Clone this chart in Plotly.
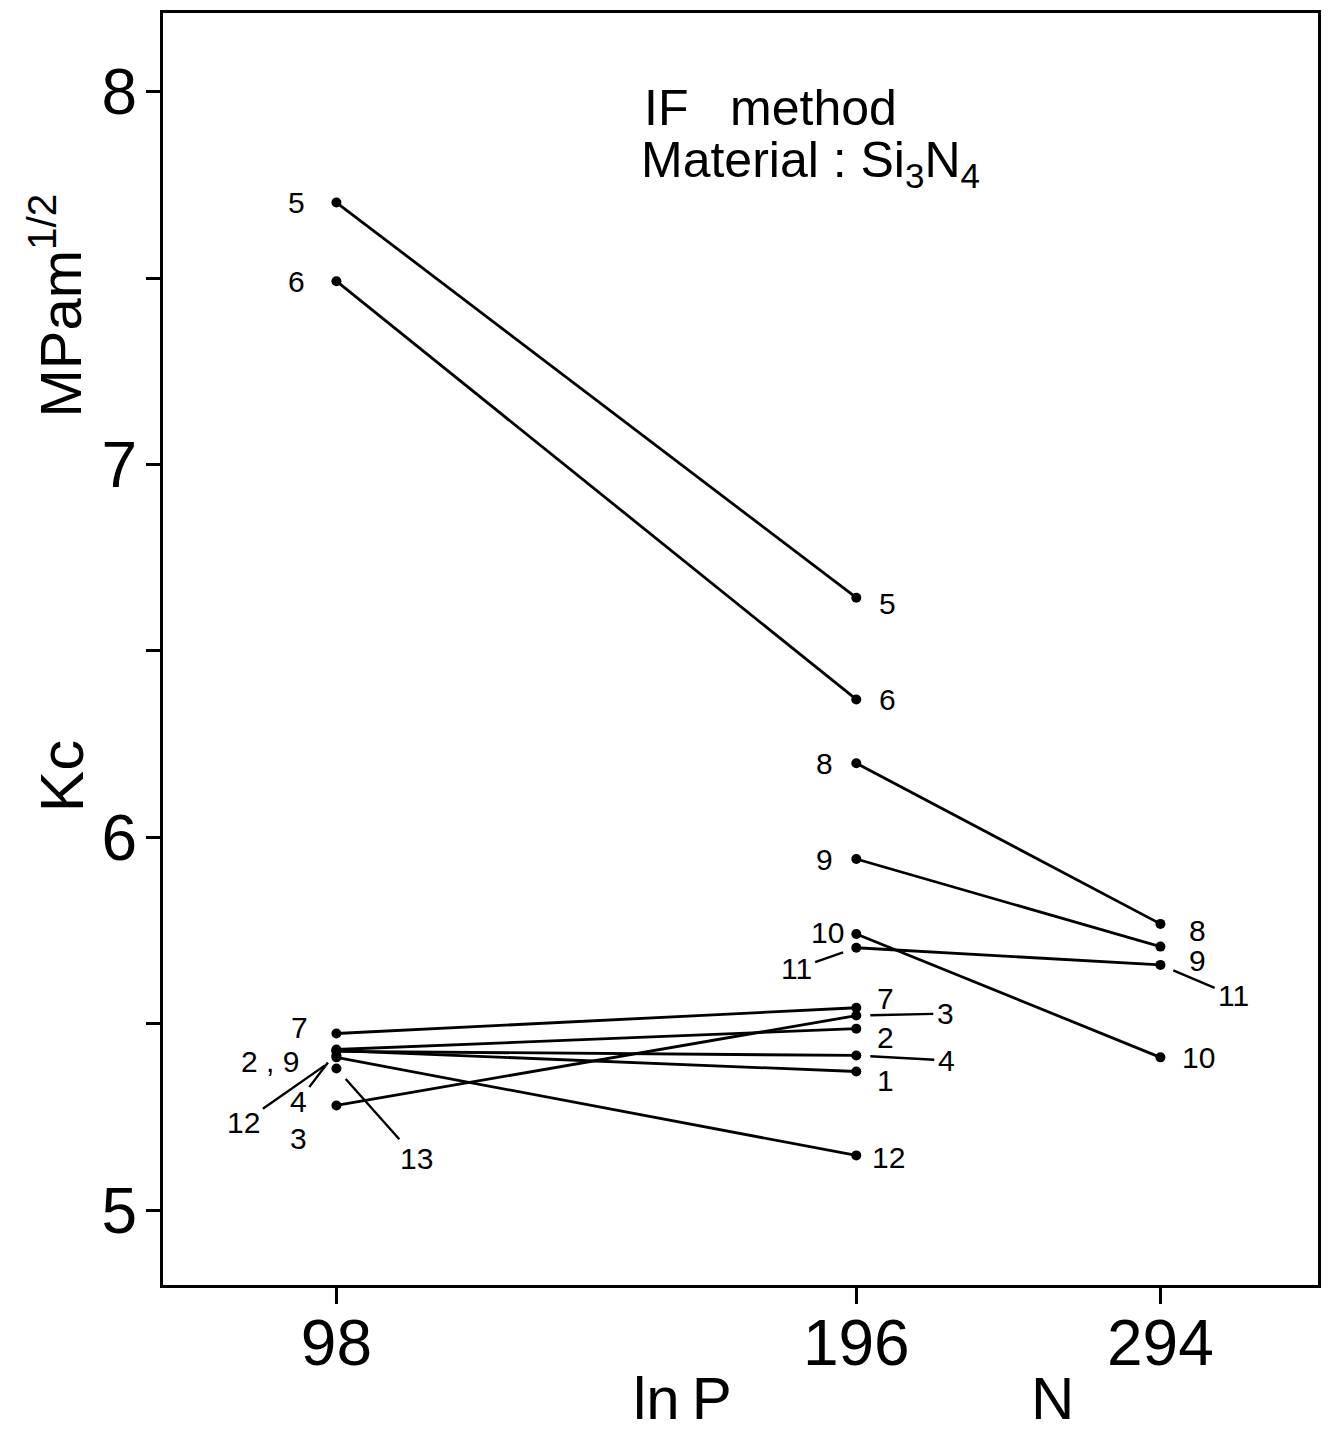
import math
import plotly.graph_objects as go

# Indentation load P (N) and fracture toughness Kc (MPa m^1/2) for each test
loads = [98, 196, 294]
series_ids = ["1", "2", "3", "4", "5", "6", "7", "8", "9", "10", "11", "12", "13"]
kc_98 = [5.428, 5.431, 5.281, 5.426, 7.703, 7.492, 5.474, None, 5.415, None, None, 5.410, 5.380]
kc_196 = [5.372, 5.487, 5.522, 5.415, 6.643, 6.370, 5.543, 6.199, 5.942, 5.741, 5.704, 5.147, None]
kc_294 = [None, None, None, None, None, None, None, 5.768, 5.707, 5.410, 5.658, None, None]
# tests whose 98 N point is plotted on its own, not joined to the higher loads
unjoined_at_98 = ["9", "13"]

y_ticks = [5, 6, 7, 8]
y_tick_text = ["5", "6", "7", "8"]
y_minor_ticks = [5.5, 6.5, 7.5]
x_ticks = [98, 196, 294]
x_tick_text = ["98", "196", "294"]

FONT = "Liberation Sans Narrow, Liberation Sans, Arial, sans-serif"
INK = "black"

columns = {98: kc_98, 196: kc_196, 294: kc_294}

fig = go.Figure()
for i, sid in enumerate(series_ids):
    pts = [(p, columns[p][i]) for p in loads if columns[p][i] is not None]
    if sid in unjoined_at_98:
        alone = [pt for pt in pts if pt[0] == 98]
        rest = [pt for pt in pts if pt[0] != 98]
        groups = [alone, rest]
    else:
        groups = [pts]
    for g in groups:
        if not g:
            continue
        fig.add_trace(go.Scatter(
            x=[p for p, _ in g], y=[v for _, v in g],
            mode="lines+markers",
            line=dict(color=INK, width=2.8),
            marker=dict(color=INK, size=10),
            showlegend=False, hoverinfo="skip",
        ))

# Label placement: (test, load, text, dx px, dy px, leader line)
label_layout = [
    ("5", 98, "5", -40, 0, False),
    ("6", 98, "6", -40, 0, False),
    ("7", 98, "7", -37, -6, False),
    ("2", 98, "2 , 9", -66, 12, False),
    ("12", 98, "12", -93, 65, True),
    ("4", 98, "4", -38, 50, True),
    ("3", 98, "3", -38, 33, False),
    ("13", 98, "13", 80, 90, True),
    ("5", 196, "5", 31, 6, False),
    ("6", 196, "6", 31, 0, False),
    ("8", 196, "8", -32, 0, False),
    ("9", 196, "9", -32, 0, False),
    ("10", 196, "10", -29, -1, False),
    ("11", 196, "11", -60, 21, True),
    ("7", 196, "7", 29, -9, False),
    ("3", 196, "3", 89, -2, True),
    ("2", 196, "2", 29, 9, False),
    ("4", 196, "4", 90, 5, True),
    ("1", 196, "1", 29, 9, False),
    ("12", 196, "12", 32, 2, False),
    ("8", 294, "8", 37, 7, False),
    ("9", 294, "9", 37, 14, False),
    ("11", 294, "11", 73, 31, True),
    ("10", 294, "10", 38, 0, False),
]

for sid, load, text, dx, dy, leader in label_layout:
    val = columns[load][series_ids.index(sid)]
    common = dict(x=math.log10(load), y=val, xref="x", yref="y", text=text,
                  font=dict(family=FONT, size=30, color=INK))
    if leader:
        fig.add_annotation(**common, showarrow=True, ax=dx, ay=dy,
                           axref="pixel", ayref="pixel", arrowhead=0,
                           arrowwidth=2.4, arrowcolor=INK, standoff=14,
                           startstandoff=3, borderpad=0)
    else:
        fig.add_annotation(**common, showarrow=False, xshift=dx, yshift=-dy)

# Titles inside the plot
fig.add_annotation(x=0.415, y=0.9251, xref="paper", yref="paper", xanchor="left",
                   yanchor="middle", showarrow=False,
                   text="IF&nbsp;&nbsp;&nbsp;method",
                   font=dict(family=FONT, size=50, color=INK))
fig.add_annotation(x=0.412, y=0.8816, xref="paper", yref="paper", xanchor="left",
                   yanchor="middle", showarrow=False,
                   text="Material : Si<sub>3</sub>N<sub>4</sub>",
                   font=dict(family=FONT, size=50, color=INK))

# Axis titles
fig.add_annotation(x=0, y=0.40, xref="paper", yref="paper", xshift=-102,
                   xanchor="center", yanchor="middle", showarrow=False,
                   textangle=-90, text="Kc", font=dict(family=FONT, size=62, color=INK))
fig.add_annotation(x=0, y=0.77, xref="paper", yref="paper", xshift=-107,
                   xanchor="center", yanchor="middle", showarrow=False,
                   textangle=-90, text="MPam<sup>1/2</sup>",
                   font=dict(family=FONT, size=58, color=INK))
fig.add_annotation(x=0.450, y=-0.1168, xref="paper", yref="paper",
                   xanchor="center", yanchor="bottom", showarrow=False,
                   text="ln&#8201;P", font=dict(family=FONT, size=60, color=INK))
fig.add_annotation(x=0.77, y=-0.1168, xref="paper", yref="paper",
                   xanchor="center", yanchor="bottom", showarrow=False,
                   text="N", font=dict(family=FONT, size=60, color=INK))

fig.update_xaxes(
    type="log", range=[1.8908, 2.5596],
    tickvals=x_ticks, ticktext=x_tick_text,
    ticks="outside", ticklen=16, tickwidth=3, tickcolor=INK,
    ticklabelstandoff=-16,
    showline=True, linewidth=3, linecolor=INK, mirror=True,
    showgrid=False, zeroline=False,
    tickfont=dict(family=FONT, size=64, color=INK),
)
fig.update_yaxes(
    range=[4.7993, 8.2114],
    tickvals=y_ticks, ticktext=y_tick_text,
    ticks="outside", ticklen=14, tickwidth=3, tickcolor=INK,
    ticklabelstandoff=-4,
    minor=dict(tickvals=y_minor_ticks, ticks="outside", ticklen=14,
               tickwidth=3, tickcolor=INK, showgrid=False),
    showline=True, linewidth=3, linecolor=INK, mirror=True,
    showgrid=False, zeroline=False,
    tickfont=dict(family=FONT, size=64, color=INK),
)
fig.update_layout(
    width=1332, height=1435,
    margin=dict(l=163, r=14, t=10, b=150),
    paper_bgcolor="white", plot_bgcolor="white",
)

fig.write_html("out.html")
